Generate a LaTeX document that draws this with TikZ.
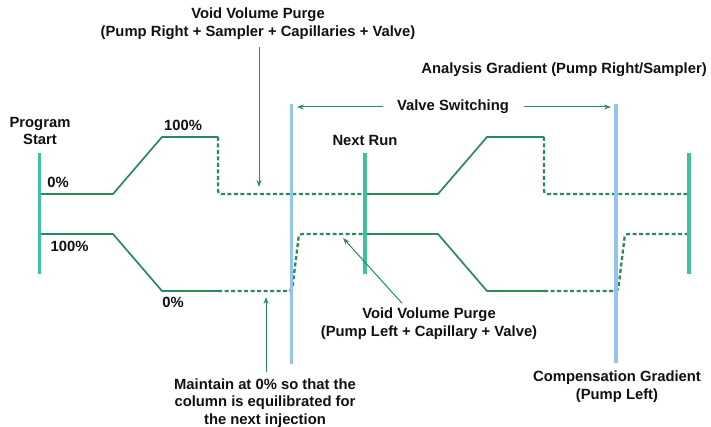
\documentclass[tikz,border=0pt]{standalone}
\usepackage{fontspec}
\setmainfont{Liberation Sans}
\usetikzlibrary{arrows.meta}
\definecolor{lg}{HTML}{2A8A5C}
\definecolor{tealbar}{HTML}{40C09C}
\definecolor{bluebar}{HTML}{92C4EC}
\definecolor{txt}{HTML}{111111}
\begin{document}
\begin{tikzpicture}[x=1pt,y=-1pt,
 lbl/.style={font=\bfseries\fontsize{14.8}{17.8}\selectfont, align=center, inner sep=0pt, text=txt},
 solidln/.style={draw=lg, line width=1.7pt},
 dashln/.style={draw=lg, line width=2.3pt, dash pattern=on 4pt off 2.5pt, rounded corners=3pt},
 tbar/.style={draw=tealbar, line width=3.4pt},
 vbar/.style={draw=bluebar, line width=3.2pt},
 ptr/.style={draw=lg, line width=1pt, -{Stealth[length=7pt,width=5pt]}}
]
\useasboundingbox (0,0) rectangle (711,427);

% labels
\node[lbl] (ps) at (40,131) {Program\\Start};
\node[lbl] (vvp1) at (258,24) {Void Volume Purge\\(Pump Right + Sampler + Capillaries + Valve)};
\node[lbl] (ag) at (564,70) {Analysis Gradient (Pump Right/Sampler)};
\node[lbl] (vs) at (453,107) {Valve Switching};
\node[lbl] (nr) at (365,140) {Next Run};
\node[lbl] (p0a) at (58,182) {0\%};
\node[lbl] (p100a) at (183,125) {100\%};
\node[lbl] (p100b) at (69.5,246) {100\%};
\node[lbl] (p0b) at (173,302) {0\%};
\node[lbl] (vvp2) at (429,324) {Void Volume Purge\\(Pump Left + Capillary + Valve)};
\node[lbl] (mt) at (265,403) {Maintain at 0\% so that the\\column is equilibrated for\\the next injection};
\node[lbl] (cg) at (617,387) {Compensation Gradient\\(Pump Left)};

% arrow targets
\coordinate (t1) at (259,187);
\coordinate (t2) at (266,297);
\coordinate (t3) at (297,107);
\coordinate (t4) at (611,107);
\coordinate (t5) at (343,238);

% gradient lines
\draw[solidln] (40,194) -- (113,194) -- (162,137) -- (218,137);
\draw[dashln] (218,137) -- (218,194) -- (365,194);
\draw[solidln] (365,194) -- (438,194) -- (487,137) -- (544,137);
\draw[dashln] (544,137) -- (544,194) -- (689,194);
\draw[solidln] (40,234) -- (113,234) -- (162,291) -- (218,291);
\draw[dashln] (218,291) -- (292,291) -- (299,234) -- (365,234);
\draw[solidln] (365,234) -- (438,234) -- (487,291) -- (544,291);
\draw[dashln] (544,291) -- (618,291) -- (625,234) -- (689,234);

% bars
\draw[vbar] (291.5,104) -- (291.5,364);
\draw[vbar] (616,104) -- (616,363);
\draw[tbar] (39.5,153) -- (39.5,274);
\draw[tbar] (365,153) -- (365,274);
\draw[tbar] (689,153) -- (689,274);

% pointers
\draw[ptr] ([xshift=1pt,yshift=-6.8pt]vvp1.south) -- (t1);
\draw[ptr] ([xshift=1pt,yshift=6.2pt]mt.north) -- (t2);
\draw[ptr] ([xshift=-14pt]vs.west) -- (t3);
\draw[ptr] ([xshift=15pt]vs.east) -- (t4);
\draw[ptr] ([xshift=-27pt,yshift=4.8pt]vvp2.north) -- (t5);
\end{tikzpicture}
\end{document}
